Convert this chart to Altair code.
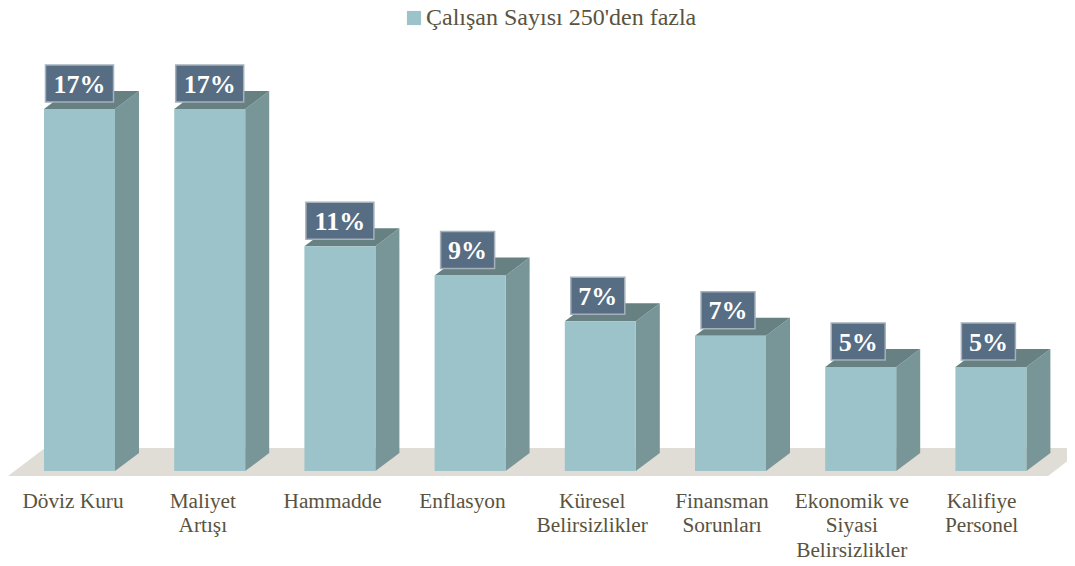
import altair as alt
import pandas as pd

categories = ["Döviz Kuru", "Maliyet\nArtışı", "Hammadde", "Enflasyon", "Küresel\nBelirsizlikler",
              "Finansman\nSorunları", "Ekonomik ve\nSiyasi\nBelirsizlikler", "Kalifiye\nPersonel"]
values = [17.4, 17.4, 10.8, 9.4, 7.2, 6.5, 5.0, 5.0]
labels = ["17%", "17%", "11%", "9%", "7%", "7%", "5%", "5%"]
series_name = "Çalışan Sayısı 250'den fazla"

FRONT, SIDE, TOP, FLOOR = "#9cc3c9", "#789598", "#678082", "#e0ddd6"
BOX, BOX_EDGE, TEXT = "#566d84", "#a5b0bb", "#595340"
W, H = 1059, 556
PX_X, PX_Y = 130.2, 20.8          # pixels per category step / per percentage point
X0, Y0 = 71.5, 463                # pixel position of category 0 and of value 0
xs = alt.Scale(domain=[-X0 / PX_X, (W - X0) / PX_X], range=[0, W], nice=False, zero=False)
ys = alt.Scale(domain=[(Y0 - H) / PX_Y, Y0 / PX_Y], range=[H, 0], nice=False, zero=False)
half = 35.5 / PX_X
dx, dy = 24 / PX_X, 18 / PX_Y

front = pd.DataFrame({"i": range(8), "v": values, "s": series_name})
front["l"], front["r"], front["b"] = front.i - half, front.i + half, 0.0

side_rows, top_rows, box_rows = [], [], []
for i, (v, t) in enumerate(zip(values, labels)):
    side_rows += [dict(i=i, x=i + half, lo=0, hi=v), dict(i=i, x=i + half + dx, lo=dy, hi=v + dy)]
    top_rows += [dict(i=i, y=v, a=i - half, b=i + half), dict(i=i, y=v + dy, a=i - half + dx, b=i + half + dx)]
    w = (34 if len(t) == 3 else 27) / PX_X
    shift = 0 if len(t) == 3 else -2.5 / PX_X
    box_rows.append(dict(i=i, t=t, l=i - w + shift, r=i + w + shift,
                         b=v + 7 / PX_Y, u=v + 44 / PX_Y, m=v + 24.5 / PX_Y))
floor_rows = [dict(y=-5 / PX_Y, a=-X0 / PX_X, b=(1040 - X0) / PX_X),
              dict(y=23 / PX_Y, a=(37 - X0) / PX_X, b=(1077 - X0) / PX_X)]

xq = lambda f: alt.X(f, type="quantitative", scale=xs, axis=None)
yq = lambda f: alt.Y(f, type="quantitative", scale=ys, axis=None)

floor = alt.Chart(pd.DataFrame(floor_rows)).mark_area(orient="horizontal", color=FLOOR, clip=True).encode(
    y=yq("y"), x=xq("a"), x2="b")
sides = alt.Chart(pd.DataFrame(side_rows)).mark_area(color=SIDE).encode(
    x=xq("x"), y=yq("lo"), y2="hi", detail="i:N")
tops = alt.Chart(pd.DataFrame(top_rows)).mark_area(orient="horizontal", color=TOP).encode(
    y=yq("y"), x=xq("a"), x2="b", detail="i:N")
fronts = alt.Chart(front).mark_rect().encode(
    x=xq("l"), x2="r", y=yq("b"), y2="v",
    color=alt.Color("s:N", scale=alt.Scale(domain=[series_name], range=[FRONT]),
                    legend=alt.Legend(orient="none", legendX=394, legendY=-2, title=None, symbolType="square",
                                      symbolSize=200, symbolStrokeWidth=0, labelFont="Liberation Serif",
                                      labelFontSize=24, labelColor=TEXT, labelOffset=0, labelLimit=400)))
boxes = alt.Chart(pd.DataFrame(box_rows))
rects = boxes.mark_rect(fill=BOX, stroke=BOX_EDGE, strokeWidth=1.5).encode(
    x=xq("l"), x2="r", y=yq("b"), y2="u")
vals = boxes.transform_calculate(c="(datum.l + datum.r) / 2").mark_text(
    font="Liberation Serif", fontWeight="bold", fontSize=26, color="white", baseline="middle").encode(
    x=xq("c"), y=yq("m"), text="t:N")
cats = alt.Chart(pd.DataFrame({"c": [(129.8 * i - 6.5) / PX_X for i in range(8)], "t": categories})).mark_text(
    font="Liberation Serif", fontSize=21.3, color=TEXT, baseline="top", lineBreak="\n", lineHeight=24.4, align="center").encode(
    x=xq("c"), y=alt.value(483), text="t:N")

chart = alt.layer(floor, sides, tops, fronts, rects, vals, cats).properties(
    width=W, height=H, padding=0, autosize=alt.AutoSizeParams(type="none"), background="white"
).configure_view(stroke=None)
chart.save("out.html", embed_options={"renderer": "svg", "actions": False})
